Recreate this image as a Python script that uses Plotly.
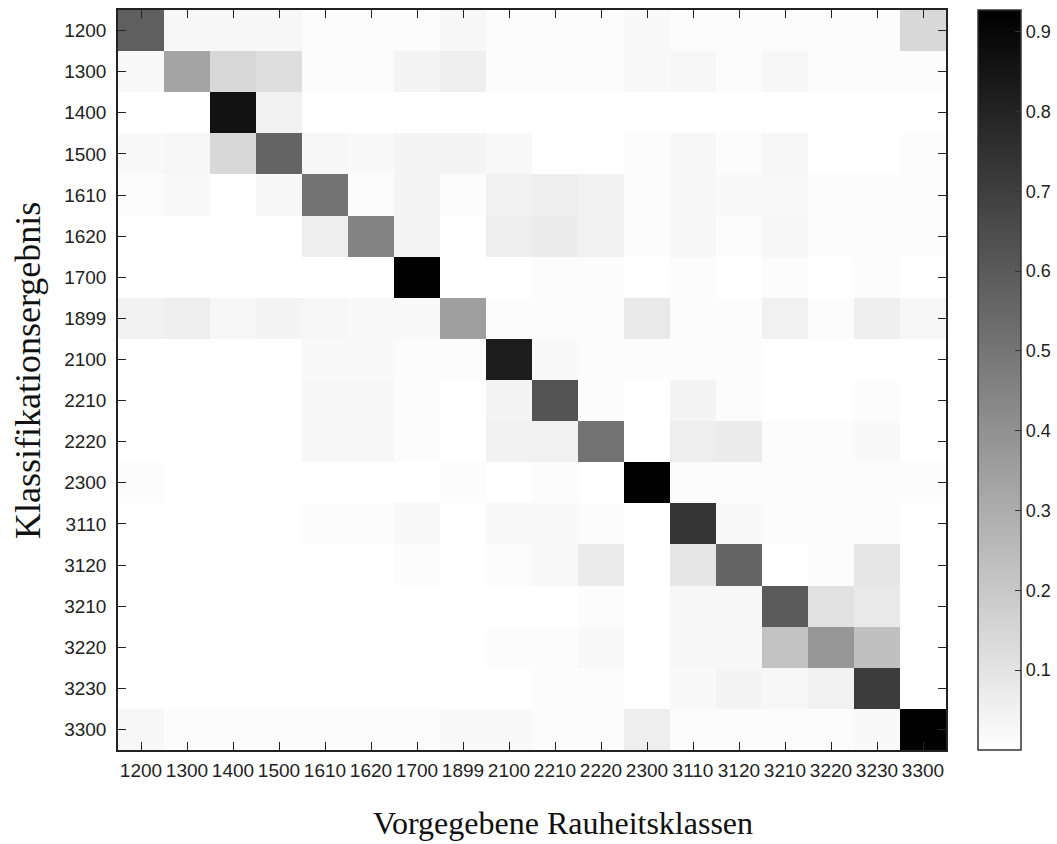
import plotly.graph_objects as go

classes = ["1200", "1300", "1400", "1500", "1610", "1620", "1700", "1899", "2100",
           "2210", "2220", "2300", "3110", "3120", "3210", "3220", "3230", "3300"]

# rows: Klassifikationsergebnis, columns: Vorgegebene Rauheitsklassen
r1200 = [0.58, 0.03, 0.03, 0.03, 0.01, 0.01, 0.01, 0.03, 0.01, 0.01, 0.01, 0.02, 0.01, 0.01, 0.01, 0.01, 0.01, 0.14]
r1300 = [0.02, 0.33, 0.14, 0.12, 0.01, 0.01, 0.04, 0.06, 0.01, 0.01, 0.01, 0.02, 0.03, 0.01, 0.03, 0.01, 0.01, 0.01]
r1400 = [0.00, 0.00, 0.86, 0.05, 0.00, 0.00, 0.00, 0.00, 0.00, 0.00, 0.00, 0.00, 0.00, 0.00, 0.00, 0.00, 0.00, 0.00]
r1500 = [0.02, 0.03, 0.14, 0.56, 0.03, 0.02, 0.04, 0.04, 0.02, 0.00, 0.00, 0.01, 0.03, 0.01, 0.03, 0.00, 0.00, 0.01]
r1610 = [0.01, 0.02, 0.00, 0.03, 0.51, 0.01, 0.04, 0.01, 0.05, 0.06, 0.05, 0.01, 0.03, 0.02, 0.02, 0.01, 0.01, 0.01]
r1620 = [0.00, 0.00, 0.00, 0.00, 0.06, 0.45, 0.04, 0.00, 0.06, 0.07, 0.05, 0.01, 0.03, 0.01, 0.03, 0.01, 0.01, 0.01]
r1700 = [0.00, 0.00, 0.00, 0.00, 0.00, 0.00, 0.92, 0.00, 0.00, 0.01, 0.01, 0.00, 0.01, 0.00, 0.01, 0.00, 0.01, 0.00]
r1899 = [0.05, 0.06, 0.03, 0.04, 0.03, 0.02, 0.02, 0.35, 0.01, 0.01, 0.01, 0.08, 0.01, 0.01, 0.05, 0.01, 0.06, 0.03]
r2100 = [0.00, 0.00, 0.00, 0.00, 0.02, 0.02, 0.01, 0.01, 0.82, 0.02, 0.01, 0.01, 0.01, 0.01, 0.00, 0.00, 0.00, 0.00]
r2210 = [0.00, 0.00, 0.00, 0.00, 0.03, 0.03, 0.01, 0.00, 0.04, 0.62, 0.01, 0.00, 0.04, 0.01, 0.00, 0.00, 0.01, 0.00]
r2220 = [0.00, 0.00, 0.00, 0.00, 0.03, 0.03, 0.01, 0.00, 0.05, 0.05, 0.51, 0.00, 0.06, 0.07, 0.01, 0.01, 0.02, 0.00]
r2300 = [0.01, 0.00, 0.00, 0.00, 0.00, 0.00, 0.00, 0.01, 0.00, 0.01, 0.00, 0.92, 0.01, 0.01, 0.01, 0.01, 0.01, 0.01]
r3110 = [0.00, 0.00, 0.00, 0.00, 0.01, 0.01, 0.02, 0.00, 0.02, 0.02, 0.01, 0.00, 0.73, 0.02, 0.01, 0.01, 0.01, 0.00]
r3120 = [0.00, 0.00, 0.00, 0.00, 0.00, 0.00, 0.01, 0.00, 0.01, 0.02, 0.07, 0.00, 0.09, 0.56, 0.00, 0.01, 0.09, 0.00]
r3210 = [0.00, 0.00, 0.00, 0.00, 0.00, 0.00, 0.00, 0.00, 0.00, 0.00, 0.01, 0.00, 0.03, 0.03, 0.60, 0.11, 0.08, 0.00]
r3220 = [0.00, 0.00, 0.00, 0.00, 0.00, 0.00, 0.00, 0.00, 0.01, 0.01, 0.02, 0.00, 0.03, 0.03, 0.22, 0.38, 0.23, 0.00]
r3230 = [0.00, 0.00, 0.00, 0.00, 0.00, 0.00, 0.00, 0.00, 0.00, 0.01, 0.01, 0.00, 0.02, 0.04, 0.03, 0.05, 0.71, 0.00]
r3300 = [0.03, 0.01, 0.01, 0.01, 0.01, 0.01, 0.01, 0.02, 0.02, 0.01, 0.01, 0.06, 0.01, 0.01, 0.01, 0.01, 0.02, 0.92]

matrix = [r1200, r1300, r1400, r1500, r1610, r1620, r1700, r1899, r2100,
          r2210, r2220, r2300, r3110, r3120, r3210, r3220, r3230, r3300]

cbar_ticks = [0.1, 0.2, 0.3, 0.4, 0.5, 0.6, 0.7, 0.8, 0.9]

W, H = 1057, 844
L, R, T, B = 118, 111, 10, 94
pw, ph = W - L - R, H - T - B

tick_font = dict(family="Liberation Sans, Arial, sans-serif", size=19, color="#222222")
cbar_font = dict(family="Liberation Sans, Arial, sans-serif", size=18, color="#222222")
xtitle_font = dict(family="Liberation Serif, Times New Roman, serif", size=32, color="#111111")
ytitle_font = dict(family="Liberation Serif, Times New Roman, serif", size=36, color="#111111")

fig = go.Figure(go.Heatmap(
    z=matrix, x=classes, y=classes,
    zmin=0.0, zmax=0.927,
    colorscale=[[0, "#ffffff"], [1, "#000000"]],
    xgap=0, ygap=0,
    colorbar=dict(
        x=(978 - L) / pw, xanchor="left", xpad=0,
        y=0.5, yanchor="middle", len=1.0, lenmode="fraction", ypad=0,
        thickness=43, thicknessmode="pixels",
        outlinecolor="#333333", outlinewidth=1.5,
        tickvals=cbar_ticks, ticktext=[f"{v:.1f}" for v in cbar_ticks],
        ticks="inside", ticklen=6, tickcolor="#333333",
        tickfont=cbar_font,
    ),
))

fig.update_layout(
    width=W, height=H,
    margin=dict(l=L, r=R, t=T, b=B, pad=0, autoexpand=False),
    paper_bgcolor="white", plot_bgcolor="white",
    xaxis=dict(
        type="category", tickmode="array", tickvals=classes, ticktext=classes,
        ticks="inside", ticklen=8, tickcolor="#222222", tickwidth=1.2,
        showline=True, linecolor="#222222", linewidth=1.5, mirror="ticks",
        tickfont=tick_font, showgrid=False, zeroline=False, ticklabelstandoff=2,
        automargin=False, tickangle=0,
    ),
    yaxis=dict(
        type="category", autorange="reversed", tickmode="array", tickvals=classes, ticktext=classes,
        ticks="inside", ticklen=8, tickcolor="#222222", tickwidth=1.2,
        showline=True, linecolor="#222222", linewidth=1.5, mirror="ticks",
        tickfont=tick_font, showgrid=False, zeroline=False, ticklabelstandoff=6,
        automargin=False,
    ),
    annotations=[
        dict(text="Vorgegebene Rauheitsklassen", xref="paper", yref="paper",
             x=(563 - L) / pw, y=-(823 - (T + ph)) / ph, xanchor="center", yanchor="middle",
             showarrow=False, font=xtitle_font),
        dict(text="Klassifikationsergebnis", xref="paper", yref="paper",
             x=(28 - L) / pw, y=(T + ph - 371) / ph, xanchor="center", yanchor="middle",
             textangle=-90, showarrow=False, font=ytitle_font),
    ],
)

fig.write_html("out.html",
               config={"displayModeBar": False},
               post_script="document.body.style.margin='0';document.body.style.padding='0';"
                           "document.body.style.overflow='hidden';")
